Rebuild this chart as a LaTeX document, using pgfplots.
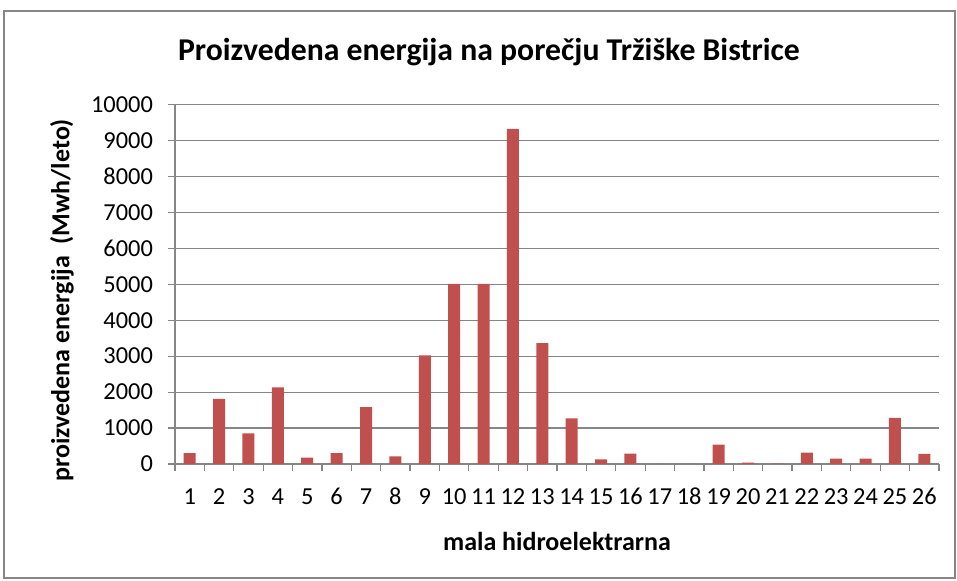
\documentclass[border=0pt]{standalone}
\usepackage{pgfplots}
\pgfplotsset{compat=1.18}
\usepackage{fontspec}
\setmainfont{Carlito}
\definecolor{barred}{HTML}{C0504D}
\definecolor{gridgray}{HTML}{868686}
\begin{document}
\begin{tikzpicture}[x=0.75pt,y=0.75pt]
\path (0,0) rectangle (957,581);
\draw[gridgray,line width=0.9pt] (4,3) rectangle (955,570);
\node[font=\fontsize{23.8}{28}\selectfont\bfseries] at (489,529) {Proizvedena energija na porečju Tržiške Bistrice};
\begin{axis}[
  at={(131.25pt,87.75pt)}, anchor=origin,
  scale only axis, width=573pt, height=269.6pt,
  xmin=0.5, xmax=26.5, ymin=0, ymax=10000,
  ytick={0,1000,...,10000},
  xtick={1,...,26},
  minor xtick={0.5,1.5,...,26.5},
  major x tick style={draw=none},
  minor x tick style={gridgray, line width=0.9pt},
  minor tick length=5pt,
  y tick style={gridgray, line width=0.9pt},
  major tick length=5pt,
  tick align=outside,
  axis x line*=bottom, axis y line*=left,
  axis line style={gridgray, line width=0.9pt, -},
  ymajorgrids, grid style={gridgray, line width=0.9pt},
  scaled y ticks=false,
  /pgf/number format/assume math mode=true,
  yticklabel style={/pgf/number format/1000 sep={}, font=\fontsize{18.3}{20}\selectfont, xshift=-8pt},
  xticklabel style={font=\fontsize{18.3}{20}\selectfont, yshift=-10pt, text height=12pt, text depth=0pt},
  ylabel={proizvedena energija\ \ (Mwh/leto)},
  ylabel style={at={(axis description cs:-0.148,0.455)}, anchor=center, font=\fontsize{19.5}{22}\selectfont\bfseries},
  xlabel={mala hidroelektrarna},
  xlabel style={at={(axis description cs:0.5,-0.215)}, anchor=center, font=\fontsize{19.5}{22}\selectfont\bfseries},
  clip=false,
]
\addplot[ybar, bar width=9pt, fill=barred, draw=none] coordinates {
(1,300) (2,1810) (3,850) (4,2130) (5,180) (6,300) (7,1580) (8,215) (9,3020) (10,5010)
(11,5010) (12,9320) (13,3360) (14,1270) (15,130) (16,290) (17,0) (18,0) (19,540) (20,40)
(21,10) (22,315) (23,150) (24,150) (25,1280) (26,280)
};
\end{axis}
\end{tikzpicture}
\end{document}
